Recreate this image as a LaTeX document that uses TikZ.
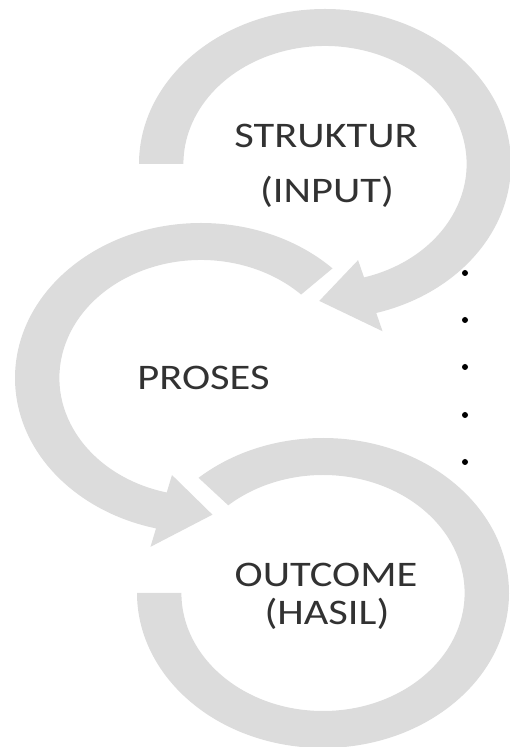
\documentclass[tikz,border=0pt]{standalone}
\usepackage{fontspec}
\newfontfamily\lblfont[FakeStretch=1.18]{Carlito}
\definecolor{ringgray}{RGB}{220,220,220}
\definecolor{txtgray}{RGB}{50,50,50}
\begin{document}
\begin{tikzpicture}[x=1pt,y=1pt,
  ring/.style={fill=ringgray},
  lbl/.style={text=txtgray,font=\lblfont\fontsize{36}{40}\selectfont,inner sep=0pt,anchor=base},
  bul/.style={circle,fill=black,inner sep=0pt,minimum size=6pt}]
\useasboundingbox (0,0) rectangle (510,747);
% top ring (STRUKTUR)
\begin{scope}[shift={(325,583)},xscale=1.2]
  \fill[ring] (180:118) -- (180:155) arc[start angle=180,end angle=-74,radius=155]
    -- (-74:174) -- (-92:137) -- (-74:100) -- (-74:118)
    arc[start angle=-74,end angle=180,radius=118] -- cycle;
\end{scope}
% middle ring (PROSES)
\begin{scope}[shift={(201,369)},xscale=1.2]
  \fill[ring] (45:118) -- (45:155) arc[start angle=45,end angle=256,radius=155]
    -- (256:174) -- (274:137) -- (256:100) -- (256:118)
    arc[start angle=256,end angle=45,radius=118] -- cycle;
\end{scope}
% bottom ring (OUTCOME)
\begin{scope}[shift={(323,154)},xscale=1.2]
  \fill[ring] (132:118) -- (132:155) arc[start angle=132,end angle=-180,radius=155]
    -- (180:118) arc[start angle=-180,end angle=132,radius=118] -- cycle;
\end{scope}
% labels
\node[lbl] (s1) at (326,599) {STRUKTUR};
\node[lbl] (s2) at (327,544) {(INPUT)};
\node[lbl] (p1) at (203.5,357) {PROSES};
\node[lbl] (o1) at (326,160) {OUTCOME};
\node[lbl] (o2) at (327,122) {(HASIL)};
% bullets
\node[bul] (b1) at (465,474) {};
\node[bul] (b2) at (465,427) {};
\node[bul] (b3) at (465,380) {};
\node[bul] (b4) at (465,332) {};
\node[bul] (b5) at (465,285) {};
\end{tikzpicture}
\end{document}
